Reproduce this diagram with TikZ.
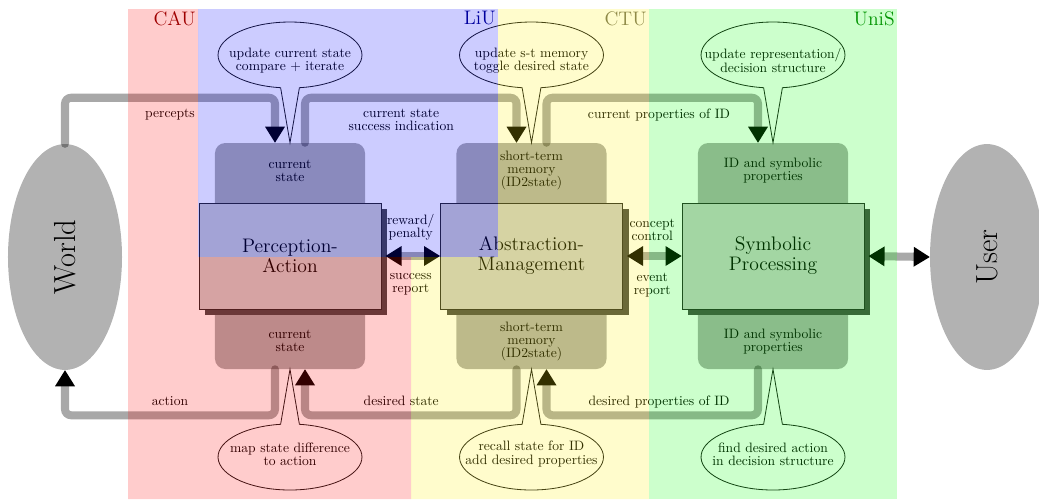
\documentclass[tikz,border=0pt]{standalone}
\usepackage{tikz}
\usetikzlibrary{shapes.geometric,shapes.callouts,shadows,arrows.meta,calc}

\begin{document}
\begin{tikzpicture}
  [
    x=0.735pt, y=0.735pt,
    txt/.style =
      {font=\fontsize{10}{9.6}\selectfont, align=center},
    mem/.style =
      {rectangle, rounded corners=7.5pt, fill=black!32, minimum width=110.3pt, minimum height=166.1pt},
    block/.style =
      {draw=black!85, line width=0.6pt, fill=black!20, align=center, minimum width=133.8pt, minimum height=77.9pt,
       font=\fontsize{14.4}{14.7}\selectfont,
       drop shadow={shadow xshift=4.5pt, shadow yshift=-4.5pt, fill=black!72, opacity=1}},
    ext/.style =
      {ellipse, fill=black!30, inner sep=0pt, minimum width=83.8pt, minimum height=166pt, font=\fontsize{22.4}{26}\selectfont},
    bubble/.style =
      {ellipse callout, draw=black!90, line width=0.6pt, inner sep=0pt, minimum width=105.8pt, minimum height=48.5pt},
    flow/.style =
      {draw=black, draw opacity=0.34, line width=5.9pt, line cap=round, rounded corners=4.5pt,
       -{Triangle[width=14.7pt, length=11.8pt, line width=0pt]}},
    dflow/.style =
      {flow, {Triangle[width=14.7pt, length=11.8pt, line width=0pt]}-{Triangle[width=14.7pt, length=11.8pt, line width=0pt]},
       shorten <=3pt},
    band/.style =
      {fill opacity=0.2},
    tag/.style =
      {anchor=north east, inner sep=1.5pt, font=\fontsize{14.4}{15}\selectfont}
  ]

\useasboundingbox (0,0) rectangle (1039,-499);

\node[mem] (m1) at (290,-256) {};
\node[mem] (m2) at (531.5,-256) {};
\node[mem] (m3) at (773,-256) {};

\node[txt] (m1a) at ($(m1.north)+(0,-28)$) {current\\state};
\node[txt] (m1b) at ($(m1.south)+(0,28)$) {current\\state};
\node[txt] (m2a) at ($(m2.north)+(0,-28)$) {short-term\\memory\\(ID2state)};
\node[txt] (m2b) at ($(m2.south)+(0,28)$) {short-term\\memory\\(ID2state)};
\node[txt] (m3a) at ($(m3.north)+(0,-28)$) {ID and symbolic\\properties};
\node[txt] (m3b) at ($(m3.south)+(0,28)$) {ID and symbolic\\properties};

\node[block] (pa) at (m1) {Perception-\\Action};
\node[block] (am) at (m2) {Abstraction-\\Management};
\node[block] (sp) at (m3) {Symbolic\\Processing};

\node[ext] (w) at (65,-257) {\rotatebox{90}{World}};
\node[ext] (u) at (987,-257) {\rotatebox{90}{User}};

\draw[flow] (w.north) |- node[txt, pos=0.75, below=2.2pt] (l1) {percepts} ($(m1.north)+(-15,45)$) -- ($(m1.north)+(-15,0)$);
\draw[flow] ($(m1.north)+(15,0)$) -- ++(0,45) -| node[txt, pos=0.25, below=2.2pt, xshift=-7pt] (l2) {current state\\success indication} ($(m2.north)+(-15,0)$);
\draw[flow] ($(m2.north)+(15,0)$) -- ++(0,45) -| node[txt, pos=0.25, below=2.2pt, xshift=5pt] (l3) {current properties of ID} ($(m3.north)+(-15,0)$);

\draw[flow] ($(m1.south)+(-15,0)$) -- ++(0,-46) -| node[txt, pos=0.25, anchor=base, yshift=7.3pt] (l4) {action} (w.south);
\draw[flow] ($(m2.south)+(-15,0)$) -- ++(0,-46) -| node[txt, pos=0.25, anchor=base, yshift=7.3pt, xshift=-7pt] (l5) {desired state} ($(m1.south)+(15,0)$);
\draw[flow] ($(m3.south)+(-15,0)$) -- ++(0,-46) -| node[txt, pos=0.25, anchor=base, yshift=7.3pt, xshift=5pt] (l6) {desired properties of ID} ($(m2.south)+(15,0)$);

\draw[dflow] (pa.east) -- node[txt, above=5pt] (l7) {reward/\\penalty} node[txt, below=6.6pt] (l8) {success\\report} (am.west);
\draw[dflow] (am.east) -- node[txt, above=5pt] (l9) {concept\\control} node[txt, below=6.6pt] (l10) {event\\report} (sp.west);
\draw[dflow] (sp.east) -- (u.west);

\node[bubble, callout absolute pointer={(m1.north)}, label={[txt, yshift=-4pt]center:update current state\\compare + iterate}] (c1) at (290,-55) {};
\node[bubble, callout absolute pointer={(m2.north)}, label={[txt, yshift=-4pt]center:update s-t memory\\toggle desired state}] (c2) at (531.5,-55) {};
\node[bubble, callout absolute pointer={(m3.north)}, label={[txt, yshift=-4pt]center:update representation/\\decision structure}] (c3) at (773,-55) {};
\node[bubble, callout absolute pointer={(m1.south)}, label={[txt, yshift=2.2pt]center:map state difference\\to action}] (c4) at (290,-457) {};
\node[bubble, callout absolute pointer={(m2.south)}, label={[txt, yshift=2.2pt]center:recall state for ID\\add desired properties}] (c5) at (531.5,-457) {};
\node[bubble, callout absolute pointer={(m3.south)}, label={[txt, yshift=2.2pt]center:find desired action\\in decision structure}] (c6) at (773,-457) {};

\fill[band, red] (128,-9) -- (198,-9) -- (198,-257) -- (411,-257) -- (411,-499) -- (128,-499) -- cycle;
\fill[band, blue] (198,-9) rectangle (498,-257);
\fill[band, yellow] (498,-9) -- (649,-9) -- (649,-499) -- (411,-499) -- (411,-257) -- (498,-257) -- cycle;
\fill[band, green] (649,-9) rectangle (897,-499);

\node[tag, text=red!62!black] (cau) at (198,-9) {CAU};
\node[tag, text=blue!62!black] (liu) at (498,-9) {LiU};
\node[tag, text=yellow!50!black] (ctu) at (649,-9) {CTU};
\node[tag, text=green!58!black] (unis) at (897,-9) {UniS};

\end{tikzpicture}
\end{document}
